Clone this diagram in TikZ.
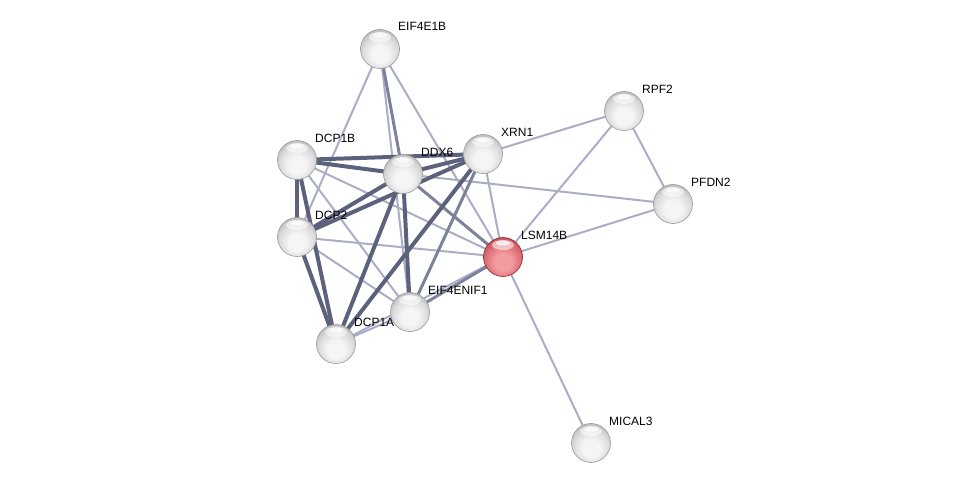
\documentclass[tikz,border=0pt]{standalone}
\usepackage{fontspec}
\setsansfont{Liberation Sans}
\usepackage{xcolor}
\usepackage{tikz}
\usetikzlibrary{backgrounds, positioning}

\definecolor{ballin}{RGB}{245,245,245}
\definecolor{ballmid}{RGB}{220,220,220}
\definecolor{balllow}{RGB}{190,190,190}
\definecolor{ballrim}{RGB}{135,135,135}
\definecolor{redin}{RGB}{242,155,160}
\definecolor{redmid}{RGB}{222,112,118}
\definecolor{redlow}{RGB}{198,85,92}
\definecolor{redrim}{RGB}{140,40,48}
\definecolor{edark}{RGB}{92,98,124}
\definecolor{emid}{RGB}{125,130,155}
\definecolor{elight}{RGB}{170,173,198}

\pgfdeclareradialshading{graysphere}{\pgfqpoint{0bp}{-9bp}}{color(0bp)=(ballin); color(11bp)=(ballin); color(22bp)=(ballmid); color(29bp)=(balllow); color(33bp)=(ballrim); color(50bp)=(ballrim)}
\pgfdeclareradialshading{redsphere}{\pgfqpoint{0bp}{-9bp}}{color(0bp)=(redin); color(11bp)=(redin); color(22bp)=(redmid); color(29bp)=(redlow); color(33bp)=(redrim); color(50bp)=(redrim)}

\begin{document}
\begin{tikzpicture}[x=1pt, y=-1pt,
    prot/.style={circle, minimum size=39pt, inner sep=0pt, draw=gray!80, line width=0.6pt, shading=graysphere,
        path picture={\fill[white, opacity=0.55] ([yshift=12pt]path picture bounding box.center) ellipse (11pt and 5pt);
                      \fill[white, opacity=0.7] ([yshift=14pt]path picture bounding box.center) ellipse (7pt and 2.5pt);}},
    query/.style={prot, draw=redrim, shading=redsphere},
    lbl/.style={anchor=base west, inner sep=0pt, font=\sffamily\fontsize{12}{14}\selectfont},
    strong/.style={draw=edark, line width=4pt},
    medium/.style={draw=emid, line width=3pt},
    weak/.style={draw=elight, line width=2pt}]
        \useasboundingbox (0,0) rectangle (976,487);

        \node[prot]  (eif4e1b)  at (380,49)  {};
        \node[prot]  (dcp1b)    at (297,160) {};
        \node[prot]  (ddx6)     at (403,174) {};
        \node[prot]  (xrn1)     at (483,154) {};
        \node[prot]  (rpf2)     at (624,111) {};
        \node[prot]  (pfdn2)    at (673,204) {};
        \node[prot]  (dcp2)     at (297,237) {};
        \node[query] (lsm14b)   at (503,257) {};
        \node[prot]  (eif4enif1) at (410,312) {};
        \node[prot]  (dcp1a)    at (336,344) {};
        \node[prot]  (mical3)   at (591,443) {};

        \foreach \n/\t in {eif4e1b/EIF4E1B, dcp1b/DCP1B, ddx6/DDX6, xrn1/XRN1, rpf2/RPF2,
                           pfdn2/PFDN2, dcp2/DCP2, lsm14b/LSM14B, eif4enif1/EIF4ENIF1,
                           dcp1a/DCP1A, mical3/MICAL3}
            \node[lbl] (\n-l) at ([shift={(18,-18)}]\n.center) {\t};

        \begin{scope}[on background layer]
        % weak links
        \foreach \a/\b in {eif4e1b/dcp2, eif4e1b/eif4enif1, eif4e1b/lsm14b, dcp1b/lsm14b,
                           dcp1b/eif4enif1, dcp2/lsm14b, dcp2/eif4enif1, ddx6/pfdn2,
                           xrn1/rpf2, xrn1/lsm14b, rpf2/lsm14b, rpf2/pfdn2, pfdn2/lsm14b,
                           lsm14b/mical3, lsm14b/dcp1a, dcp1a/eif4enif1}
            \draw[weak] (\a.center) -- (\b.center);
        % medium links
        \foreach \a/\b in {eif4e1b/ddx6, ddx6/lsm14b, xrn1/eif4enif1, lsm14b/eif4enif1}
            \draw[medium] (\a.center) -- (\b.center);
        % strong links
        \foreach \a/\b in {dcp1b/ddx6, dcp1b/xrn1, dcp1b/dcp2, dcp1b/dcp1a, dcp2/ddx6,
                           dcp2/xrn1, dcp2/dcp1a, ddx6/xrn1, ddx6/dcp1a, ddx6/eif4enif1,
                           xrn1/dcp1a}
            \draw[strong] (\a.center) -- (\b.center);
        \end{scope}
\end{tikzpicture}
\end{document}
